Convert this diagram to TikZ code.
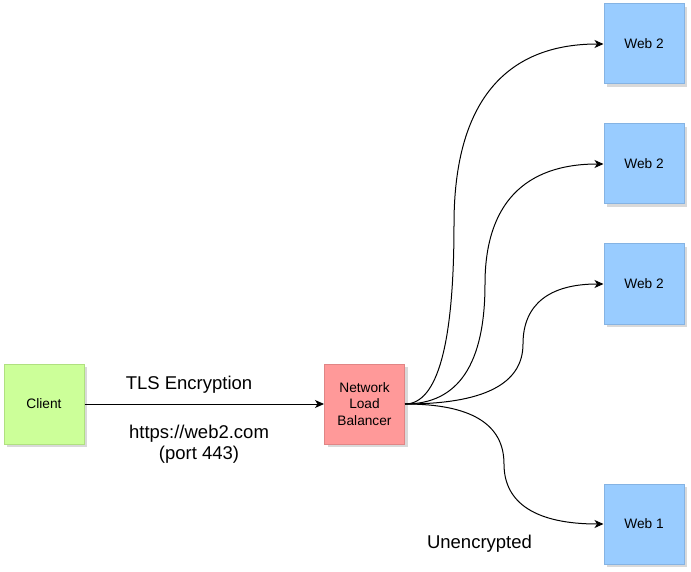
\documentclass[tikz,border=0pt]{standalone}
\usepackage{fontspec}
\setmainfont{Liberation Sans}
\usepackage{tikz}
\usetikzlibrary{arrows.meta, calc, shadows}
\definecolor{clientfill}{HTML}{CCFF99}
\definecolor{clientline}{HTML}{B0E080}
\definecolor{nlbfill}{HTML}{FF9999}
\definecolor{nlbline}{HTML}{E08585}
\definecolor{webfill}{HTML}{99CCFF}
\definecolor{webline}{HTML}{85B3E3}
\tikzset{
  box/.style={draw, line width=1pt, minimum width=80pt, minimum height=80pt, inner sep=0pt,
    align=center, font=\fontsize{13.7}{16.4}\selectfont,
    drop shadow={shadow xshift=3pt, shadow yshift=-3pt, opacity=0.15, fill=black}},
  lbl/.style={align=center, font=\fontsize{18.5}{21}\selectfont},
  link/.style={line width=1pt, -{Stealth[length=9pt, width=8pt, inset=2.5pt]}}
}

\begin{document}
\begin{tikzpicture}[x=1pt, y=-1pt]
	\useasboundingbox (0,0) rectangle (691,572);
	\node[box, fill=clientfill, draw=clientline] (client) at (44,404) {Client};
	\node[box, fill=nlbfill, draw=nlbline] (nlb) at (364.5,404) {Network\\Load\\Balancer};
	\node[box, fill=webfill, draw=webline] (w1) at (644,44) {Web 2};
	\node[box, fill=webfill, draw=webline] (w2) at (644,164) {Web 2};
	\node[box, fill=webfill, draw=webline] (w3) at (644,284) {Web 2};
	\node[box, fill=webfill, draw=webline] (w4) at (644,524) {Web 1};
	\node[lbl] (tls) at (189,385) {TLS Encryption};
	\node[lbl] (url) at (199,444.5) {https://web2.com\\(port 443)};
	\node[lbl] (plain) at (479.5,544) {Unencrypted};
	\draw[link] (client) -- (nlb);
	% bends of the curved links
	\coordinate (m1) at (454,224);
	\coordinate (m2) at (485,284);
	\coordinate (m3) at (523,344);
	\coordinate (m4) at (504,464);
	\draw[link] (nlb.east) .. controls ($(nlb.east)!2/3!(m1 |- nlb.east)$) and ($(m1)!2/3!(m1 |- nlb.east)$) .. (m1)
	  .. controls ($(m1)!2/3!(m1 |- w1.west)$) and ($(w1.west)!2/3!(m1 |- w1.west)$) .. (w1.west);
	\draw[link] (nlb.east) .. controls ($(nlb.east)!2/3!(m2 |- nlb.east)$) and ($(m2)!2/3!(m2 |- nlb.east)$) .. (m2)
	  .. controls ($(m2)!2/3!(m2 |- w2.west)$) and ($(w2.west)!2/3!(m2 |- w2.west)$) .. (w2.west);
	\draw[link] (nlb.east) .. controls ($(nlb.east)!2/3!(m3 |- nlb.east)$) and ($(m3)!2/3!(m3 |- nlb.east)$) .. (m3)
	  .. controls ($(m3)!2/3!(m3 |- w3.west)$) and ($(w3.west)!2/3!(m3 |- w3.west)$) .. (w3.west);
	\draw[link] (nlb.east) .. controls ($(nlb.east)!2/3!(m4 |- nlb.east)$) and ($(m4)!2/3!(m4 |- nlb.east)$) .. (m4)
	  .. controls ($(m4)!2/3!(m4 |- w4.west)$) and ($(w4.west)!2/3!(m4 |- w4.west)$) .. (w4.west);
\end{tikzpicture}
\end{document}
